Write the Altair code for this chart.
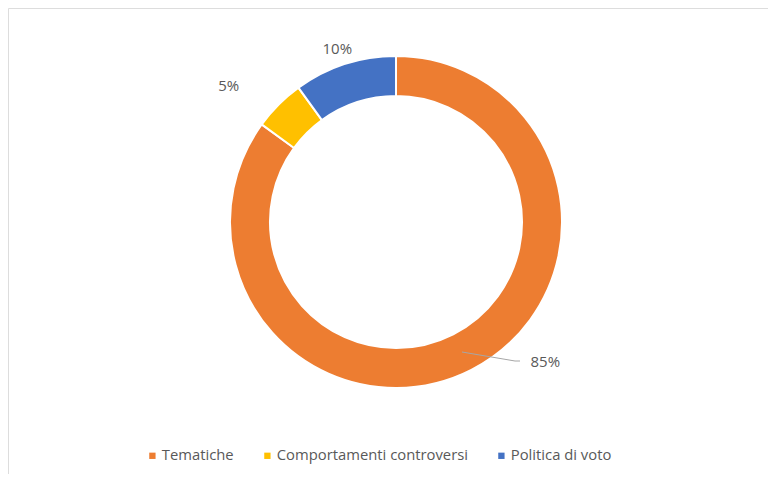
import altair as alt
import pandas as pd

categories = ["Tematiche", "Comportamenti controversi", "Politica di voto"]
values = [85, 5, 10]
labels = ["85%", "5%", "10%"]
colors = ["#ED7D31", "#FFC000", "#4472C4"]

df = pd.DataFrame({"cat": categories, "value": values, "label": labels,
                   "idx": list(range(len(categories)))})

CX, CY = 388, 214
FONT = "Open Sans"

base = alt.Chart(df).encode(
    theta=alt.Theta("value:Q", stack=True),
    order=alt.Order("idx:Q"),
)

arc = base.mark_arc(radius=166, innerRadius=126, stroke="white", strokeWidth=2).encode(
    x=alt.value(CX), y=alt.value(CY),
    color=alt.Color("cat:N", scale=alt.Scale(domain=categories, range=colors),
                    sort=categories,
                    legend=alt.Legend(title=None, orient="none", direction="horizontal",
                                      legendX=137, legendY=440, symbolType="square",
                                      symbolSize=40, symbolStrokeWidth=0,
                                      labelFont=FONT, labelFontSize=14.8,
                                      labelColor="#595959", labelOffset=2,
                                      labelLimit=0,
                                      columnPadding=26, padding=0)),
)

offsets = {"Tematiche": (63, -29), "Comportamenti controversi": (-33, -2),
           "Politica di voto": (0, 8)}
texts = []
for c in categories:
    dx, dy = offsets[c]
    texts.append(
        base.mark_text(radius=190, dx=dx, dy=dy, font=FONT, fontSize=15,
                       color="#595959").encode(
            x=alt.value(CX), y=alt.value(CY), text="label:N",
            opacity=alt.condition(alt.datum.cat == c, alt.value(1), alt.value(0)),
        )
    )

leader = alt.Chart(df).mark_rule(color="#A6A6A6", strokeWidth=1).encode(
    x=alt.value(454), y=alt.value(344), x2=alt.value(507), y2=alt.value(353)
).transform_filter(alt.datum.cat == "Tematiche")
leader2 = alt.Chart(df).mark_rule(color="#A6A6A6", strokeWidth=1).encode(
    x=alt.value(507), y=alt.value(353), x2=alt.value(512), y2=alt.value(353)
).transform_filter(alt.datum.cat == "Tematiche")

chart = alt.layer(arc, leader, leader2, *texts).properties(
    width=760, height=466,
    autosize=alt.AutoSizeParams(type="none"), padding=0,
).configure_view(stroke=None).configure(background="white")

chart.save("out.html", embed_options={"renderer": "svg", "actions": False})
